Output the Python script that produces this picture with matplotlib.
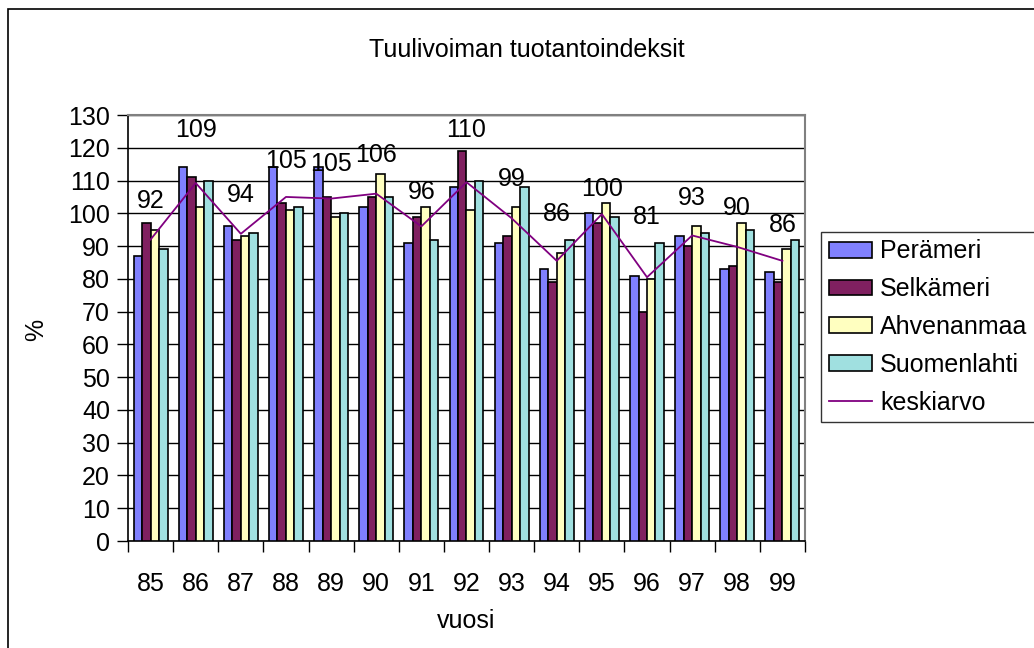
import numpy as np
import matplotlib
matplotlib.use("Agg")
import matplotlib.pyplot as plt
from matplotlib.patches import Rectangle

plt.rcParams['font.family'] = ['Liberation Sans', 'DejaVu Sans']

# Data
vuodet = ['85', '86', '87', '88', '89', '90', '91', '92', '93', '94', '95', '96', '97', '98', '99']
peramerí = [87, 114, 96, 114, 114, 102, 91, 108, 91, 83, 100, 81, 93, 83, 82]
selkameri = [97, 111, 92, 103, 105, 105, 99, 119, 93, 79, 97, 70, 90, 84, 79]
ahvenanmaa = [95, 102, 93, 101, 99, 112, 102, 101, 102, 88, 103, 80, 96, 97, 89]
suomenlahti = [89, 110, 94, 102, 100, 105, 92, 110, 108, 92, 99, 91, 94, 95, 92]
keskiarvo = [92.0, 109.25, 93.75, 105.0, 104.5, 106.0, 96.0, 109.5, 98.5, 85.5,
             99.75, 80.5, 93.25, 89.75, 85.5]

# gap (px) between line point and its value label, as in the original
label_dy = [27, 41, 27, 24, 23, 27, 22, 40, 27, 35, 13, 48, 25, 27, 24]

series = [
    ('Perämeri', peramerí, '#8080FF'),
    ('Selkämeri', selkameri, '#802060'),
    ('Ahvenanmaa', ahvenanmaa, '#FFFFC0'),
    ('Suomenlahti', suomenlahti, '#A0E0E0'),
]

FS = 18

fig = plt.figure(figsize=(10.34, 6.48), dpi=100)
ax = fig.add_axes([0.1238, 0.1651, 0.6547, 0.6574])

# outer chart border (right and bottom run off the picture)
fig.add_artist(Rectangle((8 / 1034, -0.05), 1.2, 1 - 9 / 648 + 0.05,
                         transform=fig.transFigure, fill=False,
                         edgecolor='black', linewidth=1.2))

x = np.arange(len(vuodet))
w = 0.188
bars = []
for i, (name, vals, col) in enumerate(series):
    b = ax.bar(x + (i - 1.5) * w, vals, width=w, color=col, edgecolor='black',
               linewidth=1.2, label=name, zorder=3)
    bars.append(b)

line, = ax.plot(x, keskiarvo, color='#800080', linewidth=1.3, label='keskiarvo', zorder=4)
for xi, v, dy in zip(x, keskiarvo, label_dy):
    ax.annotate(str(int(v + 0.5)), (xi, v), xytext=(0, dy * 0.72),
                textcoords='offset points', ha='center', va='bottom',
                fontsize=FS, zorder=5)

ax.set_xlim(-0.5, len(vuodet) - 0.5)
ax.set_ylim(0, 130)
ax.set_yticks(range(0, 131, 10))
ax.yaxis.grid(True, color='black', linewidth=1.0, zorder=0)
ax.set_axisbelow(True)

ax.set_xticks(x)
ax.set_xticklabels(vuodet)
ax.set_xticks(np.arange(-0.5, len(vuodet), 1), minor=True)
ax.tick_params(axis='x', which='major', length=0, pad=22, labelsize=FS)
ax.tick_params(axis='x', which='minor', length=8, direction='out', width=1)
ax.tick_params(axis='y', length=8, direction='out', width=1, labelsize=FS, pad=5)

for s in ['top', 'right']:
    ax.spines[s].set_color('#808080')
    ax.spines[s].set_linewidth(1.5)
ax.spines['left'].set_linewidth(1.2)
ax.spines['bottom'].set_linewidth(1.2)

fig.text(36 / 1034, 1 - 330 / 648, '%', rotation=90, ha='center', va='center', fontsize=FS)
fig.text(466 / 1034, 1 - 621 / 648, 'vuosi', ha='center', va='center', fontsize=FS)
fig.text(527 / 1034, 1 - 50 / 648, 'Tuulivoiman tuotantoindeksit', ha='center', va='center', fontsize=FS)

leg = ax.legend(bars + [line], [s[0] for s in series] + ['keskiarvo'],
                loc='upper left', bbox_to_anchor=(821 / 1034, 1 - 232 / 648),
                bbox_transform=fig.transFigure, fontsize=FS, frameon=True,
                fancybox=False, edgecolor='black', borderaxespad=0,
                handlelength=1.72, handleheight=0.6, handletextpad=0.35,
                labelspacing=0.55, borderpad=0.3)
leg.get_frame().set_linewidth(1.0)

fig.savefig('out.png', dpi=100)
